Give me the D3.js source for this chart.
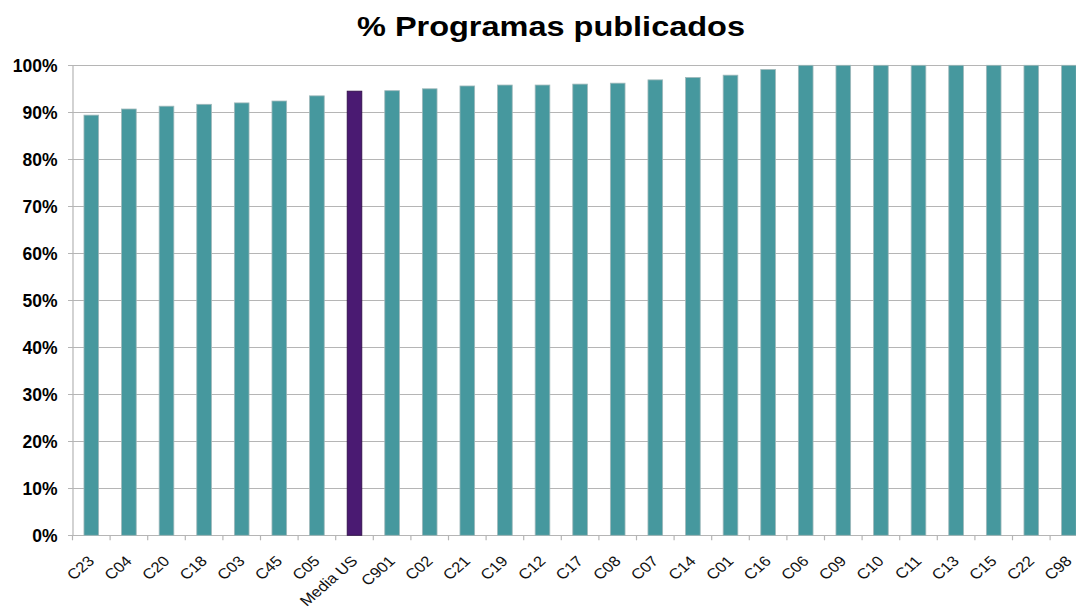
<!DOCTYPE html>
<html>
<head>
<meta charset="utf-8">
<script src="https://cdn.jsdelivr.net/npm/d3@7"></script>
<style>
  body { margin: 0; background: #fff; }
  svg { display: block; font-family: "Liberation Sans", Arial, sans-serif; }
</style>
</head>
<body>
<svg id="chart" width="1076" height="609"></svg>
<script>
'use strict';

const categories = ['C23', 'C04', 'C20', 'C18', 'C03', 'C45', 'C05', 'Media US', 'C901', 'C02', 'C21', 'C19', 'C12',
    'C17', 'C08', 'C07', 'C14', 'C01', 'C16', 'C06', 'C09', 'C10', 'C11', 'C13', 'C15', 'C22', 'C98'];
const values = [89.4, 90.7, 91.3, 91.7, 92.0, 92.4, 93.5, 94.5, 94.6, 95.0, 95.6, 95.8, 95.8,
    96.0, 96.2, 96.9, 97.4, 97.9, 99.1, 100, 100, 100, 100, 100, 100, 100, 100];
const yTicks = [0, 10, 20, 30, 40, 50, 60, 70, 80, 90, 100];
const highlight = 'Media US';

const LEFT = 72.5;
const TOP = 65.3;
const BOTTOM = 535.3;
const BAND = 37.6;

const svg = d3.select('#chart');
const data = categories.map((c, i) => ({ cat: c, value: values[i] }));

const x = d3.scaleBand()
    .domain(categories)
    .range([LEFT, LEFT + BAND * categories.length])
    .paddingInner(0.61)
    .paddingOuter(0.305);

const y = d3.scaleLinear()
    .domain([0, 100])
    .range([BOTTOM, TOP]);

// title (reference is a bit stretched sideways)
svg.append('text')
    .attr('x', 357)
    .attr('y', 35.5)
    .attr('textLength', 388)
    .attr('lengthAdjust', 'spacingAndGlyphs')
    .style('font-size', '28px')
    .style('font-weight', 'bold')
    .attr('fill', '#000')
    .text('% Programas publicados');

// gridlines
svg.append('g')
    .selectAll('line')
    .data(yTicks)
    .enter()
    .append('line')
    .attr('x1', LEFT - 4.5)
    .attr('x2', 1076)
    .attr('y1', d => Math.round(y(d)) + 0.5)
    .attr('y2', d => Math.round(y(d)) + 0.5)
    .attr('stroke', '#b5b5b5')
    .attr('stroke-width', 1.2);

// y labels
const yAxis = d3.axisLeft(y)
    .tickValues(yTicks)
    .tickSize(0)
    .tickPadding(15)
    .tickFormat(d => d + '%');

const gY = svg.append('g')
    .attr('transform', 'translate(' + LEFT + ',0)')
    .call(yAxis);
gY.select('.domain').attr('stroke', '#b5b5b5').attr('stroke-width', 1.2);
gY.selectAll('.tick text')
    .style('font-size', '17.5px')
    .style('font-weight', 'bold')
    .style('font-family', '"Liberation Sans", Arial, sans-serif')
    .attr('fill', '#000')
    .attr('dy', '0.36em');

// bars
svg.append('g')
    .selectAll('rect')
    .data(data)
    .enter()
    .append('rect')
    .attr('x', d => x(d.cat))
    .attr('y', d => y(d.value))
    .attr('width', x.bandwidth())
    .attr('height', d => y(0) - y(d.value))
    .attr('fill', d => d.cat === highlight ? '#4a1a72' : '#46989e')
    .attr('stroke', d => d.cat === highlight ? '#2c0c44' : '#9fb8ba')
    .attr('stroke-width', 0.8);

// x axis ticks at band boundaries
const bounds = d3.range(categories.length + 1).map(i => LEFT + i * BAND);
svg.append('g')
    .selectAll('line')
    .data(bounds)
    .enter()
    .append('line')
    .attr('x1', d => d)
    .attr('x2', d => d)
    .attr('y1', BOTTOM)
    .attr('y2', BOTTOM + 5)
    .attr('stroke', '#b5b5b5')
    .attr('stroke-width', 1.2);

// x labels, rotated and stretched like the reference
svg.append('g')
    .selectAll('text')
    .data(categories)
    .enter()
    .append('text')
    .attr('transform', d => 'translate(' + (x(d) + x.bandwidth() / 2 + 4) + ',562) scale(1.15,1) rotate(-45)')
    .attr('text-anchor', 'end')
    .style('font-size', '14.5px')
    .attr('fill', '#111')
    .text(d => d);
</script>
</body>
</html>
